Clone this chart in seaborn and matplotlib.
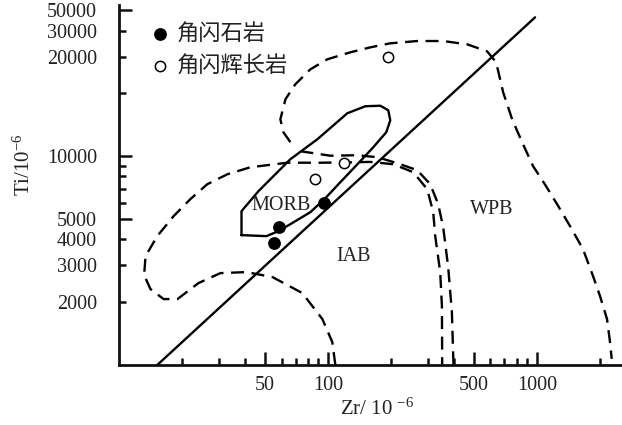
import matplotlib
matplotlib.use('Agg')
import matplotlib.pyplot as plt
import seaborn as sns
from matplotlib.ticker import FixedLocator, FixedFormatter
from matplotlib.font_manager import FontProperties

# ---------------- data (Zr, Ti in 10^-6) ----------------
hornblendite_zr = [55.3, 58.0, 96.0]
hornblendite_ti = [3835, 4558, 5958]
gabbro_zr = [86.3, 119.7, 192.8]
gabbro_ti = [7762, 9330, 29990]

divide_zr = [15.2, 981]
divide_ti = [1000, 46240]

morb_zr = [38.5, 38.5, 46.4, 66.0, 88.9, 123.7, 150.8, 177.9, 194.3, 198.7, 190.1,
           164.7, 142.7, 114.5, 97.1, 82.3, 66.0, 57.8, 50.7, 38.5]
morb_ti = [4188, 5455, 6800, 9674, 12060, 16060, 17350, 17450, 16600, 14860, 13030,
           11040, 9464, 7506, 6295, 5395, 4727, 4377, 4142, 4188]

iab_outer_zr = [108.4, 104.8, 93.9, 75.3, 54.2, 40.7, 30.5, 23.95, 19.0, 16.3, 14.1,
                13.15, 13.36, 15.2, 18.2, 21.9, 26.4, 33.0, 42.5, 63.9, 91.9, 118.4,
                159.4, 205.3, 255.9, 298.6, 319.0, 326.2, 344.6, 351.2, 352.3]
iab_outer_ti = [1000, 1288, 1660, 2211, 2636, 2786, 2755, 2468, 2069, 2069, 2310,
                2696, 3323, 4142, 5163, 6228, 7345, 8202, 8856, 9309, 9309, 9330,
                9391, 9157, 8384, 6952, 5396, 4142, 2786, 1915, 1000]

iab_inner_zr = [73.7, 102.6, 138.1, 172.2, 214.6, 267.5, 308.7, 337.1, 356.1, 376.3, 392.0, 399.0]
iab_inner_ti = [10566, 10055, 10110, 9890, 9258, 8570, 7345, 5893, 4574, 2944, 1793, 1000]

wpb_zr = [66.0, 61.1, 59.1, 62.5, 69.7, 82.3, 99.2, 127.8, 159.4, 198.7, 267.5, 356.1,
          464.0, 578.2, 638.7, 690.1, 761.8, 850.6, 960.1, 1108, 1251, 1443, 1665,
          1860, 2009, 2170, 2243, 2285]
wpb_ti = [11670, 13030, 15030, 18740, 22110, 26080, 29120, 31450, 33220, 34730, 35620,
          35620, 34350, 31800, 28170, 20240, 15030, 11670, 8959, 7186, 5893, 4625, 3589,
          2666, 2138, 1660, 1288, 1070]

field_names = ['MORB', 'IAB', 'WPB']
field_zr = [59.8, 132.1, 609]
field_ti = [5799, 3323, 5577]

legend_labels = ['角闪石岩', '角闪辉长岩']

x_major = [50, 100, 500, 1000]
x_major_labels = ['50', '100', '500', '1000']
x_minor = [20, 30, 40, 60, 70, 80, 90, 200, 300, 400, 600, 700, 800, 900, 2000]
y_major = [5000, 10000, 50000]
y_major_labels = ['5000', '10000', '50000']
y_minor = [2000, 3000, 4000, 6000, 7000, 8000, 9000, 20000, 30000, 40000]
y_minor_labels = ['2000', '3000', '4000', '', '', '', '', '', '20000', '30000']

# ---------------- style ----------------
sns.set_style('ticks')
plt.rcParams['font.family'] = ['Liberation Serif', 'Noto Sans CJK SC']
plt.rcParams['mathtext.fontset'] = 'custom'
plt.rcParams['mathtext.rm'] = 'Liberation Serif'
plt.rcParams['mathtext.it'] = 'Liberation Serif'
plt.rcParams['axes.unicode_minus'] = True

fig = plt.figure(figsize=(6.22, 4.25), dpi=100)
ax = fig.add_axes([119.3 / 622, 60 / 425, 502.7 / 622, 360 / 425])
ax.set_xscale('log')
ax.set_yscale('log')

dash = (0, (5.5, 3.2))
lw = 1.7
sns.lineplot(x=divide_zr, y=divide_ti, sort=False, estimator=None, color='black', lw=lw, ax=ax)
sns.lineplot(x=morb_zr, y=morb_ti, sort=False, estimator=None, color='black', lw=lw, ax=ax)
sns.lineplot(x=iab_outer_zr, y=iab_outer_ti, sort=False, estimator=None, color='black', lw=lw,
             linestyle=dash, ax=ax)
sns.lineplot(x=iab_inner_zr, y=iab_inner_ti, sort=False, estimator=None, color='black', lw=lw,
             linestyle=dash, ax=ax)
sns.lineplot(x=wpb_zr, y=wpb_ti, sort=False, estimator=None, color='black', lw=lw,
             linestyle=dash, ax=ax)

sns.scatterplot(x=hornblendite_zr, y=hornblendite_ti, color='black', s=85, marker='o',
                edgecolor='black', linewidth=0, label=legend_labels[0], ax=ax, zorder=5)
sns.scatterplot(x=gabbro_zr, y=gabbro_ti, facecolor='white', s=55, marker='o',
                edgecolor='black', linewidth=1.1, label=legend_labels[1], ax=ax, zorder=5)

for name, zx, ty in zip(field_names, field_zr, field_ti):
    ax.text(zx, ty, name, ha='center', va='center', fontsize=14.5, family='Liberation Serif',
            color='#222222')

ax.set_xlim(10, 2560)
ax.set_ylim(1000, 53000)

ax.xaxis.set_major_locator(FixedLocator(x_major))
ax.xaxis.set_major_formatter(FixedFormatter(x_major_labels))
ax.xaxis.set_minor_locator(FixedLocator(x_minor))
ax.xaxis.set_minor_formatter(FixedFormatter([''] * len(x_minor)))
ax.yaxis.set_major_locator(FixedLocator(y_major))
ax.yaxis.set_major_formatter(FixedFormatter(y_major_labels))
ax.yaxis.set_minor_locator(FixedLocator(y_minor))
ax.yaxis.set_minor_formatter(FixedFormatter(y_minor_labels))

for side in ['top', 'right']:
    ax.spines[side].set_visible(False)
for side in ['left', 'bottom']:
    ax.spines[side].set_linewidth(2.0)
    ax.spines[side].set_color('#111111')

ax.tick_params(which='both', direction='in', width=1.8, color='#111111',
               labelsize=14.5, labelcolor='#222222')
ax.tick_params(which='major', length=9.5)
ax.tick_params(which='minor', length=5)
ax.tick_params(axis='y', which='both', pad=16)
ax.tick_params(axis='x', which='both', pad=8)

ax.set_xlabel('Zr/ 10 $^{-6}$', fontsize=15, color='#222222', va='center')
ax.xaxis.set_label_coords(0.512, -0.122)
ax.set_ylabel('Ti/10$^{-6}$', fontsize=15, color='#222222', va='center')
ax.yaxis.set_label_coords(-0.19, 0.556)

leg = ax.legend(loc='upper left', bbox_to_anchor=(0.0654, 0.954), frameon=False,
                borderpad=0, borderaxespad=0, handlelength=0.7, handletextpad=0.42,
                labelspacing=0.4,
                prop=FontProperties(family='Noto Sans CJK SC', size=16, weight='light'))
for t in leg.get_texts():
    t.set_color('#222222')

fig.savefig('out.png', dpi=100)
